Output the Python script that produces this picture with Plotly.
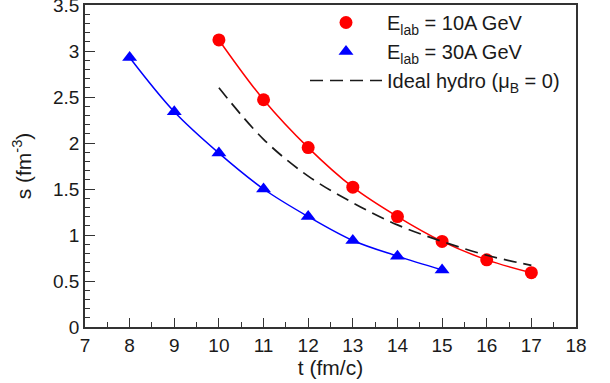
import plotly.graph_objects as go

t_10 = [10, 11, 12, 13, 14, 15, 16, 17]
s_10 = [3.12, 2.47, 1.95, 1.52, 1.20, 0.93, 0.73, 0.59]

t_30 = [8, 9, 10, 11, 12, 13, 14, 15]
s_30 = [2.93, 2.34, 1.89, 1.50, 1.20, 0.94, 0.77, 0.62]

t_hydro = [10, 11, 12, 13, 14, 15, 16, 17]
s_hydro = [2.60, 2.04, 1.64, 1.35, 1.11, 0.93, 0.78, 0.67]

x_ticks = list(range(7, 19))
y_ticks = [0, 0.5, 1, 1.5, 2, 2.5, 3, 3.5]
y_tick_labels = ["0", "0.5", "1", "1.5", "2", "2.5", "3", "3.5"]

FONT = "Liberation Sans, Arial, Helvetica, sans-serif"
AX = "#333333"
ML, MR, MT, MB = 85, 34, 5, 56
PW, PH = 610 - ML - MR, 383 - MT - MB

fig = go.Figure()

fig.add_trace(go.Scatter(x=t_10, y=s_10, mode="lines",
                         line=dict(color="#ff0000", width=1.5, shape="spline", smoothing=1.0),
                         showlegend=False, hoverinfo="skip"))
fig.add_trace(go.Scatter(x=t_30, y=s_30, mode="lines",
                         line=dict(color="#0000ff", width=1.5, shape="spline", smoothing=1.0),
                         showlegend=False, hoverinfo="skip"))

fig.add_trace(go.Scatter(x=t_10, y=s_10, mode="markers", name="E<sub>lab</sub> = 10A GeV",
                         marker=dict(symbol="circle", size=13, color="#ff0000")))
fig.add_trace(go.Scatter(x=t_30, y=s_30, mode="markers", name="E<sub>lab</sub> = 30A GeV",
                         marker=dict(symbol="triangle-up", size=13, color="#0000ff")))
fig.add_trace(go.Scatter(x=t_hydro, y=s_hydro, mode="lines",
                         name="Ideal hydro (\u03bc<sub>B</sub> = 0)",
                         line=dict(color="#1a1a1a", width=1.7, dash="13px,7px", shape="spline", smoothing=1.0)))

fig.update_layout(
    width=610, height=383,
    margin=dict(l=ML, r=MR, t=MT, b=MB, autoexpand=False),
    paper_bgcolor="white", plot_bgcolor="white",
    font=dict(family=FONT, color="#1a1a1a", size=19),
    showlegend=True,
    legend=dict(x=(305 - ML) / PW, xanchor="left", y=1 + 2 / PH, yanchor="top",
                bgcolor="rgba(0,0,0,0)", font=dict(size=20), itemwidth=72, tracegroupgap=0),
    xaxis=dict(range=[7, 18], tickvals=x_ticks, ticks="inside", ticklen=9, tickwidth=1.2,
               tickcolor=AX, showline=True, linecolor=AX, linewidth=1.5, mirror=True,
               showgrid=False, zeroline=False, automargin=False, ticklabeloverflow="allow",
               minor=dict(dtick=0.5, ticks="inside", ticklen=5, tickcolor=AX, tickwidth=1.2),
               tickfont=dict(size=19),
               title=dict(text="t (fm/c)", font=dict(size=21), standoff=6)),
    yaxis=dict(range=[0, 3.5], tickvals=y_ticks, ticktext=y_tick_labels, ticks="inside",
               ticklen=10, tickwidth=1.2, tickcolor=AX, showline=True, linecolor=AX,
               linewidth=1.5, mirror=True, showgrid=False, zeroline=False, automargin=False,
               ticklabeloverflow="allow",
               minor=dict(dtick=0.1, ticks="inside", ticklen=5, tickcolor=AX, tickwidth=1.2),
               tickfont=dict(size=19),
               title=dict(text="s (fm<sup>-3</sup>)", font=dict(size=21), standoff=16)),
)

fig.write_html("out.html", config={"displayModeBar": False},
               post_script="document.body.style.margin='0px';")
